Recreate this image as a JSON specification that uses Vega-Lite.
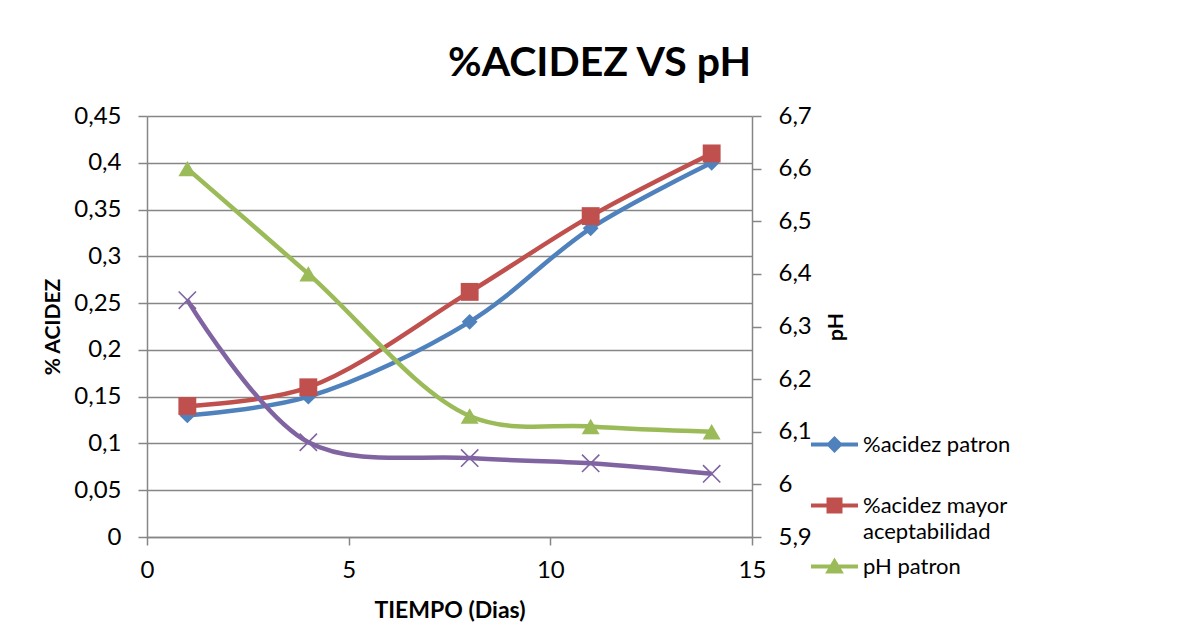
{
  "$schema": "https://vega.github.io/schema/vega-lite/v6.json",
  "width": 605,
  "height": 421,
  "autosize": {"type": "none"},
  "padding": {"left": 147, "top": 116, "right": 426, "bottom": 107},
  "background": "white",
  "config": {
    "view": {"stroke": null},
    "font": "Lato"
  },
  "title": {
    "text": "%ACIDEZ VS pH",
    "font": "Lato",
    "fontSize": 41,
    "fontWeight": "bold",
    "color": "black",
    "anchor": "middle",
    "frame": "group",
    "baseline": "alphabetic",
    "dx": 150,
    "offset": -13
  },
  "data": {
    "values": [
      {"dia": 1, "serie": "%acidez patron", "valor": 0.13},
      {"dia": 4, "serie": "%acidez patron", "valor": 0.15},
      {"dia": 8, "serie": "%acidez patron", "valor": 0.23},
      {"dia": 11, "serie": "%acidez patron", "valor": 0.33},
      {"dia": 14, "serie": "%acidez patron", "valor": 0.4},
      {"dia": 1, "serie": "%acidez mayor aceptabilidad", "valor": 0.14},
      {"dia": 4, "serie": "%acidez mayor aceptabilidad", "valor": 0.16},
      {"dia": 8, "serie": "%acidez mayor aceptabilidad", "valor": 0.262},
      {"dia": 11, "serie": "%acidez mayor aceptabilidad", "valor": 0.343},
      {"dia": 14, "serie": "%acidez mayor aceptabilidad", "valor": 0.41},
      {"dia": 1, "serie": "pH patron", "valor": 6.6},
      {"dia": 4, "serie": "pH patron", "valor": 6.4},
      {"dia": 8, "serie": "pH patron", "valor": 6.13},
      {"dia": 11, "serie": "pH patron", "valor": 6.11},
      {"dia": 14, "serie": "pH patron", "valor": 6.1},
      {"dia": 1, "serie": "pH mayor aceptabilidad", "valor": 6.35},
      {"dia": 4, "serie": "pH mayor aceptabilidad", "valor": 6.08},
      {"dia": 8, "serie": "pH mayor aceptabilidad", "valor": 6.05},
      {"dia": 11, "serie": "pH mayor aceptabilidad", "valor": 6.04},
      {"dia": 14, "serie": "pH mayor aceptabilidad", "valor": 6.02}
    ]
  },
  "encoding": {
    "x": {
      "field": "dia",
      "type": "quantitative",
      "scale": {"domain": [0, 15], "nice": false, "zero": false},
      "axis": {
        "title": "TIEMPO (Dias)",
        "values": [0, 5, 10, 15],
        "grid": false,
        "domainColor": "#868686",
        "domainWidth": 1.5,
        "tickColor": "#868686",
        "tickWidth": 1.5,
        "tickSize": 8,
        "labelFont": "Lato",
        "labelFontSize": 24,
        "labelColor": "black",
        "labelPadding": 13,
        "labelFlush": false,
        "labelOverlap": false,
        "titleFont": "Lato",
        "titleFontSize": 23,
        "titleFontWeight": "bold",
        "titleColor": "black",
        "titlePadding": 17
      }
    },
    "color": {
      "field": "serie",
      "type": "nominal",
      "scale": {
        "domain": ["%acidez patron", "%acidez mayor aceptabilidad", "pH patron", "pH mayor aceptabilidad"],
        "range": ["#4F81BD", "#C0504D", "#9BBB59", "#8064A2"]
      },
      "legend": {
        "orient": "none",
        "legendX": 664,
        "legendY": 305,
        "title": null,
        "values": ["%acidez patron", "%acidez mayor aceptabilidad", "pH patron"],
        "padding": 0,
        "symbolSize": 2209,
        "symbolStrokeWidth": 0,
        "symbolOpacity": 1,
        "labelFont": "Lato",
        "labelFontSize": 22,
        "labelColor": "black",
        "labelOffset": 5,
        "labelLimit": 400,
        "rowPadding": 0,
        "labelExpr": "datum.label == '%acidez mayor aceptabilidad' ? ['%acidez mayor', 'aceptabilidad'] : [datum.label, '']",
        "encode": {
          "symbols": {
            "update": {
              "opacity": {"value": 1},
              "fill": {"scale": "color", "field": "value"},
              "stroke": {"value": "transparent"},
              "strokeWidth": {"value": 0},
              "shape": {"signal": "datum.value == '%acidez patron' ? 'M-1,-0.085H1V0.085H-1Z M0,-0.36L0.36,0L0,0.36L-0.36,0Z' : datum.value == '%acidez mayor aceptabilidad' ? 'M-1,-0.085H1V0.085H-1Z M-0.34,-0.34H0.34V0.34H-0.34Z' : 'M-1,-0.085H1V0.085H-1Z M0,-0.38L0.4,0.3H-0.4Z'"}
            }
          },
          "labels": {
            "update": {
              "lineHeight": {"value": 26}
            }
          }
        }
      }
    }
  },
  "layer": [
    {
      "transform": [{"filter": {"field": "serie", "oneOf": ["%acidez patron", "%acidez mayor aceptabilidad"]}}],
      "encoding": {
        "y": {
          "field": "valor",
          "type": "quantitative",
          "scale": {"domain": [0, 0.45], "nice": false},
          "axis": {
            "orient": "left",
            "title": "% ACIDEZ",
            "values": [0, 0.05, 0.1, 0.15, 0.2, 0.25, 0.3, 0.35, 0.4, 0.45],
            "labelExpr": "replace(toString(datum.value), '.', ',')",
            "grid": true,
            "gridColor": "#868686",
            "gridWidth": 1.5,
            "domainColor": "#868686",
            "domainWidth": 1.5,
            "tickColor": "#868686",
            "tickWidth": 1.5,
            "tickSize": 9,
            "labelFont": "Lato",
            "labelFontSize": 24,
            "labelColor": "black",
            "labelPadding": 17,
            "labelFlush": false,
            "labelOverlap": false,
            "titleFont": "Lato",
            "titleFontSize": 21,
            "titleFontWeight": "bold",
            "titleColor": "black",
            "titlePadding": 10
          }
        }
      },
      "layer": [
        {"mark": {"type": "line", "interpolate": "catmull-rom", "strokeWidth": 4.5}},
        {
          "transform": [{"filter": {"field": "serie", "equal": "%acidez patron"}}],
          "mark": {"type": "point", "filled": true, "opacity": 1, "size": 250, "shape": "diamond"}
        },
        {
          "transform": [{"filter": {"field": "serie", "equal": "%acidez mayor aceptabilidad"}}],
          "mark": {"type": "point", "filled": true, "opacity": 1, "size": 320, "shape": "square"}
        }
      ]
    },
    {
      "transform": [{"filter": {"field": "serie", "oneOf": ["pH patron", "pH mayor aceptabilidad"]}}],
      "encoding": {
        "y": {
          "field": "valor",
          "type": "quantitative",
          "scale": {"domain": [5.9, 6.7], "nice": false, "zero": false},
          "axis": {
            "orient": "right",
            "title": "pH",
            "values": [5.9, 6, 6.1, 6.2, 6.3, 6.4, 6.5, 6.6, 6.7],
            "labelExpr": "replace(toString(datum.value), '.', ',')",
            "grid": false,
            "domainColor": "#868686",
            "domainWidth": 1.5,
            "tickColor": "#868686",
            "tickWidth": 1.5,
            "tickSize": 9,
            "labelFont": "Lato",
            "labelFontSize": 24,
            "labelColor": "black",
            "labelPadding": 17,
            "labelFlush": false,
            "labelOverlap": false,
            "titleFont": "Lato",
            "titleFontSize": 21,
            "titleFontWeight": "bold",
            "titleColor": "black",
            "titleAngle": 270,
            "titleBaseline": "top",
            "titlePadding": 14
          }
        }
      },
      "layer": [
        {"mark": {"type": "line", "interpolate": "catmull-rom", "strokeWidth": 4.5}},
        {
          "transform": [{"filter": {"field": "serie", "equal": "pH patron"}}],
          "mark": {"type": "point", "filled": true, "opacity": 1, "size": 320, "shape": "triangle-up"}
        },
        {
          "transform": [{"filter": {"field": "serie", "equal": "pH mayor aceptabilidad"}}],
          "mark": {"type": "point", "filled": false, "opacity": 1, "size": 300, "strokeWidth": 1.6, "shape": "M-1,-1L1,1M-1,1L1,-1"}
        }
      ]
    }
  ],
  "resolve": {"scale": {"y": "independent"}}
}
